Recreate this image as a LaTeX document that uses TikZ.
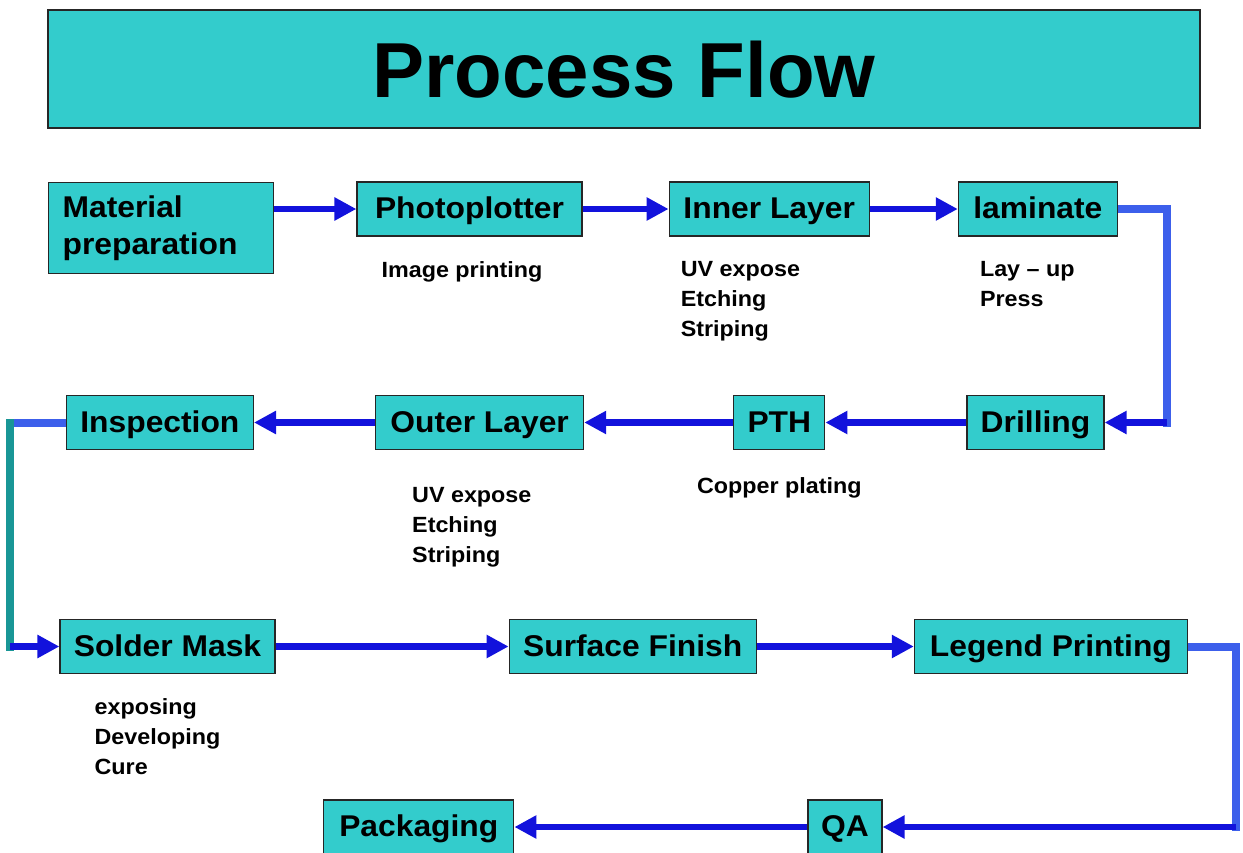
\documentclass[tikz,border=0pt]{standalone}
\usepackage{fontspec}
\setmainfont{Liberation Sans}[FakeStretch=1.06]
\newfontfamily\titlefont{Liberation Sans}
\usetikzlibrary{positioning,arrows.meta}

\definecolor{boxcyan}{RGB}{51,204,204}
\definecolor{arrowblue}{RGB}{18,18,220}
\definecolor{lineblue}{RGB}{60,95,235}
\definecolor{lineteal}{RGB}{25,150,150}

\tikzstyle{process} = [rectangle, minimum height=54pt, inner sep=0pt, text height=21pt, text depth=2pt, text centered, draw=black!85, line width=1.2pt, fill=boxcyan, font=\bfseries\fontsize{30}{37}\selectfont]
\tikzstyle{note} = [align=left, inner sep=0pt, font=\bfseries\fontsize{22}{30}\selectfont]
\tikzstyle{arrow} = [line width=6.5pt, draw=arrowblue, -{Triangle[length=22pt,width=22pt,color=arrowblue]}]
\tikzstyle{elbow} = [line width=8pt, draw=lineblue, line cap=rect]

\begin{document}
\begin{tikzpicture}[x=1pt, y=-1pt]
\useasboundingbox (0,0) rectangle (1243,852);
%标题
\node (title) [process, minimum width=1152pt, minimum height=118pt, text height=56pt, text depth=0pt, font=\titlefont\bfseries\fontsize{78}{80}\selectfont] at (624,69) {Process Flow};

%第一行
\node (matprep) [process, minimum width=225pt, minimum height=91pt, text height=, text depth=, text width=197pt, align=left, anchor=north west] at (48,182) {Material\\preparation};
\node (photo) [process, minimum width=225pt] at (469.5,209) {Photoplotter};
\node (inner) [process, minimum width=200pt, right=86pt of photo] {Inner Layer};
\node (laminate) [process, minimum width=159pt, right=88pt of inner] {laminate};

%第二行
\node (drilling) [process, minimum width=137pt] at (1035.5,422.5) {Drilling};
\node (pth) [process, minimum width=91pt, left=141pt of drilling] {PTH};
\node (outer) [process, minimum width=208pt, left=149pt of pth] {Outer Layer};
\node (inspection) [process, minimum width=187pt, left=121pt of outer] {Inspection};

%第三行
\node (solder) [process, minimum width=215pt] at (167.5,646.5) {Solder Mask};
\node (surface) [process, minimum width=247pt, right=233pt of solder] {Surface Finish};
\node (legend) [process, minimum width=273pt, right=157pt of surface] {Legend Printing};

%第四行
\node (qa) [process, minimum width=74pt] at (845,827) {QA};
\node (packaging) [process, minimum width=190pt, left=293pt of qa] {Packaging};

%说明文字
\node (photonote) [note, below right=25pt and 25pt of photo.south west] {Image printing};
\node (innernote) [note, below right=25pt and 12pt of inner.south west] {UV expose\\Etching\\Striping};
\node (laminatenote) [note, below right=25pt and 22pt of laminate.south west] {Lay -- up\\Press};
\node (outernote) [note, below right=37pt and 37pt of outer.south west] {UV expose\\Etching\\Striping};
\node (pthnote) [note, below=27pt of pth] {Copper plating};
\node (soldernote) [note, below right=24pt and 35pt of solder.south west] {exposing\\Developing\\Cure};

%连接
%Material preparation
\draw [arrow] (matprep.east |- photo.west) -- (photo.west);

%Photoplotter
\draw [arrow] (photo) -- (inner);

%Inner Layer
\draw [arrow] (inner) -- (laminate);

%laminate
\coordinate (lamturn) at ([xshift=62pt]drilling.east);
\draw [elbow] ([xshift=4pt]laminate.east) -| (lamturn);
\draw [arrow] (lamturn) -- (drilling.east);

%Drilling
\draw [arrow] (drilling) -- (pth);

%PTH
\draw [arrow] (pth) -- (outer);

%Outer Layer
\draw [arrow] (outer) -- (inspection);

%Inspection
\coordinate (insturn) at ([xshift=-56pt]inspection.west);
\coordinate (solturn) at (insturn |- solder.west);
\draw [elbow] ([xshift=-4pt]inspection.west) -- (insturn);
\draw [elbow, draw=lineteal] (insturn) -- (solturn);
\draw [arrow] (solturn) -- (solder.west);

%Solder Mask
\draw [arrow] (solder) -- (surface);

%Surface Finish
\draw [arrow] (surface) -- (legend);

%Legend Printing
\coordinate (legright) at ([xshift=48pt]legend.east);
\coordinate (legturn) at (legright |- qa.east);
\draw [elbow] ([xshift=4pt]legend.east) -| (legturn);
\draw [arrow] (legturn) -- (qa.east);

%QA
\draw [arrow] (qa) -- (packaging);

\end{tikzpicture}
\end{document}
